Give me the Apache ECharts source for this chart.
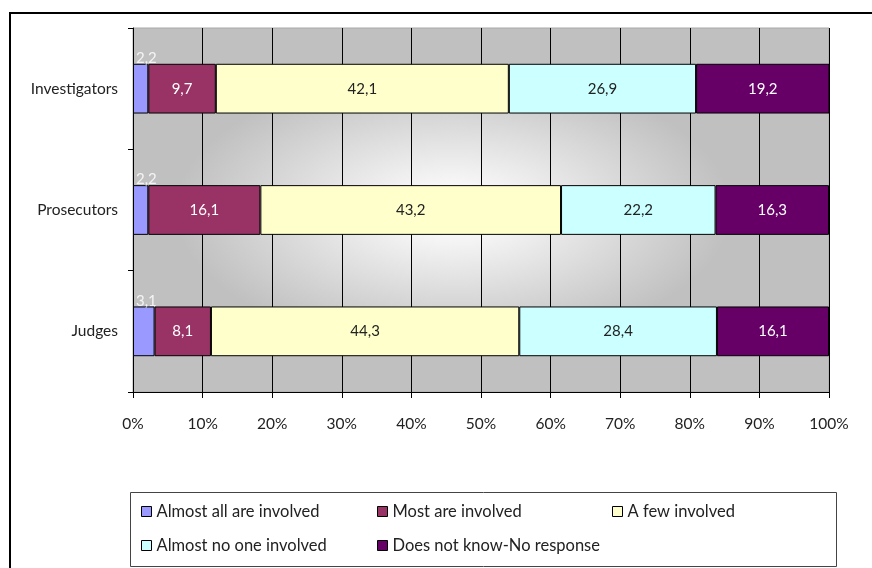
<!DOCTYPE html>
<html>
<head>
<meta charset="utf-8">
<script src="https://cdn.jsdelivr.net/npm/echarts@6/dist/echarts.min.js"></script>
<style>
html,body{margin:0;padding:0;background:#fff;}
#chart{width:872px;height:568px;}
</style>
</head>
<body>
<div id="chart"></div>
<script>
var categories = ['Investigators', 'Prosecutors', 'Judges'];
var seriesNames = ['Almost all are involved', 'Most are involved', 'A few involved', 'Almost no one involved', 'Does not know-No response'];
var almostAll = [2.2, 2.2, 3.1];
var mostInvolved = [9.7, 16.1, 8.1];
var fewInvolved = [42.1, 43.2, 44.3];
var almostNone = [26.9, 22.2, 28.4];
var noResponse = [19.2, 16.3, 16.1];
var xTickLabels = ['0%', '10%', '20%', '30%', '40%', '50%', '60%', '70%', '80%', '90%', '100%'];

var colors = ['#9999FF', '#993366', '#FFFFCC', '#CCFFFF', '#660066'];
var labelColors = ['#f4f4f4', '#ffffff', '#222222', '#222222', '#ffffff'];
var FONT = 'Lato';

function fmt(p) { return String(p.value).replace('.', ','); }

var dataSets = [almostAll, mostInvolved, fewInvolved, almostNone, noResponse];
var series = dataSets.map(function (d, i) {
  var lbl = {
    show: true,
    formatter: fmt,
    color: labelColors[i],
    fontFamily: FONT,
    fontSize: 15
  };
  if (i === 0) {
    lbl.position = [3, -13];
  } else {
    lbl.position = 'inside';
  }
  return {
    name: seriesNames[i],
    type: 'bar',
    stack: 'total',
    barWidth: '41%',
    data: d,
    itemStyle: { color: colors[i], borderColor: '#000', borderWidth: 1 },
    label: lbl,
    emphasis: { disabled: true }
  };
});

var legendPos = [
  { left: 141, top: 503 },
  { left: 377, top: 503 },
  { left: 612, top: 503 },
  { left: 141, top: 537 },
  { left: 377, top: 537 }
];
var legends = seriesNames.map(function (n, i) {
  return {
    data: [n],
    left: legendPos[i].left,
    top: legendPos[i].top,
    padding: 0,
    icon: 'rect',
    itemWidth: 10,
    itemHeight: 10,
    selectedMode: false,
    textStyle: { fontFamily: FONT, fontSize: 16.5, color: '#222' },
    itemStyle: { borderColor: '#000', borderWidth: 1 }
  };
});

var chart = echarts.init(document.getElementById('chart'), null, { renderer: 'canvas' });
chart.setOption({
  animation: false,
  backgroundColor: '#ffffff',
  textStyle: { fontFamily: FONT },
  grid: {
    left: 133, right: 43, top: 28, bottom: 176,
    show: true, borderColor: '#a8a8a8', borderWidth: 1, backgroundColor: 'transparent'
  },
  graphic: [
    {
      type: 'rect', z: -10, x: 133, y: 28, scaleX: 2,
      shape: { x: 0, y: 0, width: 348, height: 364 },
      style: {
        fill: {
          type: 'radial', x: 0.46, y: 0.5, r: 0.4,
          colorStops: [
            { offset: 0, color: '#ffffff' },
            { offset: 0.2, color: '#f6f6f6' },
            { offset: 1, color: '#c0c0c0' }
          ]
        }
      },
      silent: true
    },
    {
      type: 'line', z: 10, shape: { x1: 10, y1: 13, x2: 872, y2: 13 },
      style: { stroke: '#000', lineWidth: 2 }, silent: true
    },
    {
      type: 'line', z: 10, shape: { x1: 10, y1: 12, x2: 10, y2: 568 },
      style: { stroke: '#000', lineWidth: 2 }, silent: true
    },
    {
      type: 'rect', z: 10, shape: { x: 130.5, y: 492.5, width: 706, height: 74 },
      style: { fill: 'none', stroke: '#444', lineWidth: 1 }, silent: true
    }
  ],
  legend: legends,
  xAxis: {
    type: 'value', min: 0, max: 100, interval: 10,
    axisLine: { show: true, lineStyle: { color: '#000', width: 1 } },
    axisTick: { show: true, length: 6, lineStyle: { color: '#000' } },
    splitLine: { show: true, lineStyle: { color: '#000', width: 1 } },
    axisLabel: {
      margin: 24, fontFamily: FONT, fontSize: 15.5, color: '#222',
      formatter: function (v) { return xTickLabels[Math.round(v / 10)]; }
    }
  },
  yAxis: {
    type: 'category', inverse: true, data: categories,
    axisLine: { show: true, lineStyle: { color: '#000', width: 1 } },
    axisTick: { show: true, length: 5, lineStyle: { color: '#000' } },
    splitLine: { show: false },
    axisLabel: { margin: 15, fontFamily: FONT, fontSize: 15.5, color: '#222' }
  },
  series: series
});
</script>
</body>
</html>
